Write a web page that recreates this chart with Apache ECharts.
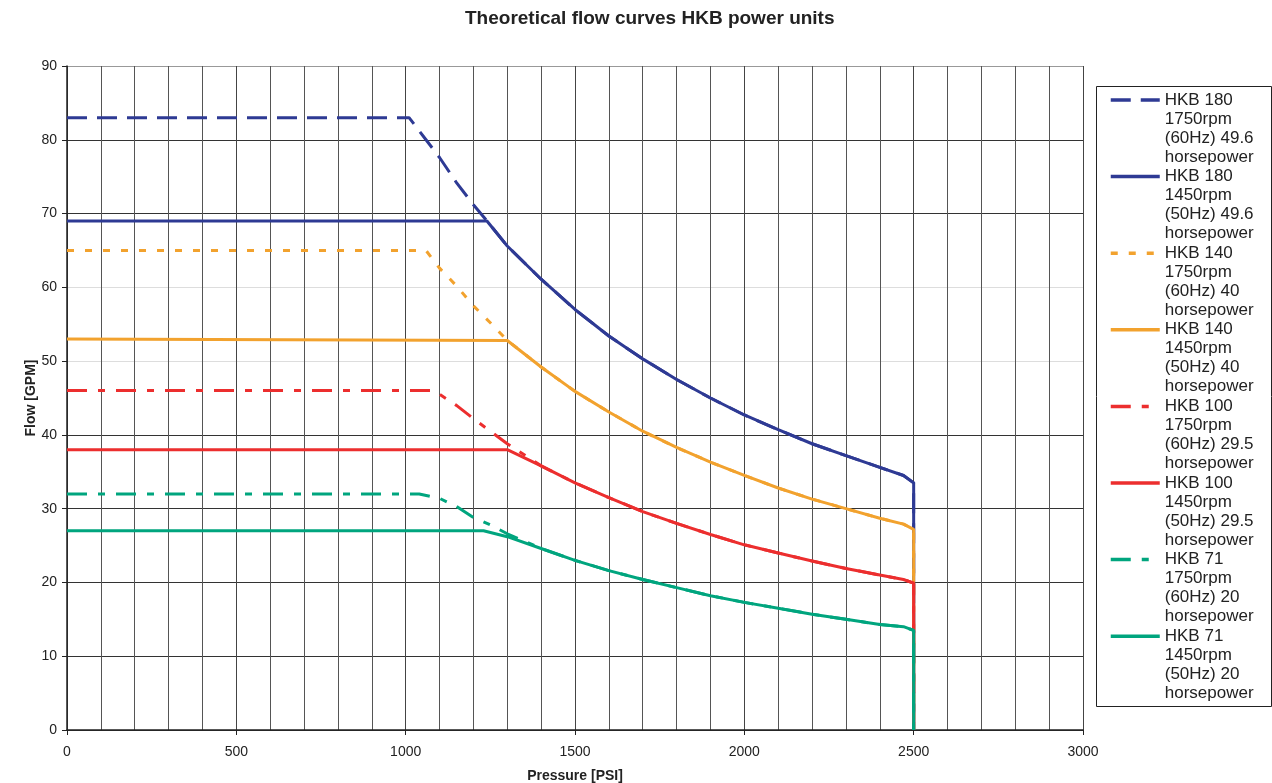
<!DOCTYPE html>
<html>
<head>
<meta charset="utf-8">
<script src="https://cdn.jsdelivr.net/npm/echarts@6/dist/echarts.min.js"></script>
<style>html,body{margin:0;padding:0;background:#fff}#c{width:1272px;height:783px}</style>
</head>
<body>
<div id="c"></div>
<script>
const titleText = 'Theoretical flow curves HKB power units';
const xName = 'Pressure [PSI]';
const yName = 'Flow [GPM]';
const xTicks = [0, 500, 1000, 1500, 2000, 2500, 3000];
const yTicks = [0, 10, 20, 30, 40, 50, 60, 70, 80, 90];

const names = [
  'HKB 180\n1750rpm\n(60Hz) 49.6\nhorsepower',
  'HKB 180\n1450rpm\n(50Hz) 49.6\nhorsepower',
  'HKB 140\n1750rpm\n(60Hz) 40\nhorsepower',
  'HKB 140\n1450rpm\n(50Hz) 40\nhorsepower',
  'HKB 100\n1750rpm\n(60Hz) 29.5\nhorsepower',
  'HKB 100\n1450rpm\n(50Hz) 29.5\nhorsepower',
  'HKB 71\n1750rpm\n(60Hz) 20\nhorsepower',
  'HKB 71\n1450rpm\n(50Hz) 20\nhorsepower'
];

const hkb180_60 = [[0,83],[1010,83],[1060,80.0],[1100,77.6],[1150,74.2],[1200,71.2],[1240,69],[1300,65.6],[1400,61.1],[1500,57.0],[1600,53.4],[1700,50.3],[1800,47.5],[1900,45.0],[2000,42.7],[2100,40.7],[2200,38.8],[2300,37.2],[2400,35.6],[2470,34.5],[2500,33.5],[2500,0]];
const hkb180_50 = [[0,69],[1240,69],[1300,65.6],[1400,61.1],[1500,57.0],[1600,53.4],[1700,50.3],[1800,47.5],[1900,45.0],[2000,42.7],[2100,40.7],[2200,38.8],[2300,37.2],[2400,35.6],[2470,34.5],[2500,33.5],[2500,0]];
const hkb140_60 = [[0,65],[1060,65],[1100,62.6],[1150,60.2],[1200,57.5],[1250,55.2],[1300,52.8],[1400,49.2],[1500,45.9],[1600,43.1],[1700,40.5],[1800,38.3],[1900,36.3],[2000,34.5],[2100,32.8],[2200,31.3],[2300,30.0],[2400,28.7],[2470,27.9],[2500,27.2],[2500,0]];
const hkb140_50 = [[0,53],[1300,52.8],[1400,49.2],[1500,45.9],[1600,43.1],[1700,40.5],[1800,38.3],[1900,36.3],[2000,34.5],[2100,32.8],[2200,31.3],[2300,30.0],[2400,28.7],[2470,27.9],[2500,27.2],[2500,0]];
const hkb100_60 = [[0,46],[1080,46],[1100,45.5],[1150,44.0],[1200,42.2],[1250,40.5],[1300,38.8],[1360,37.0],[1400,35.8],[1500,33.5],[1600,31.5],[1700,29.6],[1800,28.0],[1900,26.5],[2000,25.1],[2100,24.0],[2200,22.9],[2300,21.9],[2400,21.0],[2470,20.4],[2500,19.9],[2500,0]];
const hkb100_50 = [[0,38],[1300,38],[1400,35.8],[1500,33.5],[1600,31.5],[1700,29.6],[1800,28.0],[1900,26.5],[2000,25.1],[2100,24.0],[2200,22.9],[2300,21.9],[2400,21.0],[2470,20.4],[2500,19.9],[2500,0]];
const hkb71_60 = [[0,32],[1040,32],[1100,31.4],[1150,30.3],[1200,28.8],[1250,27.8],[1300,26.6],[1350,25.6],[1400,24.6],[1500,23.0],[1600,21.6],[1700,20.4],[1800,19.3],[1900,18.2],[2000,17.3],[2100,16.5],[2200,15.7],[2300,15.0],[2400,14.3],[2470,14.0],[2500,13.5],[2500,0]];
const hkb71_50 = [[0,27],[1230,27],[1300,26.2],[1400,24.6],[1500,23.0],[1600,21.6],[1700,20.4],[1800,19.3],[1900,18.2],[2000,17.3],[2100,16.5],[2200,15.7],[2300,15.0],[2400,14.3],[2470,14.0],[2500,13.5],[2500,0]];

const seriesData = [hkb180_60, hkb180_50, hkb140_60, hkb140_50, hkb100_60, hkb100_50, hkb71_60, hkb71_50];
const colors = ['#2e3a94', '#2e3a94', '#f2a22e', '#f2a22e', '#ec2e2e', '#ec2e2e', '#00a57e', '#00a57e'];
const dashes = [[20, 10], 'solid', [7, 11], 'solid', [20, 11, 7, 11], 'solid', [20, 11, 7, 11], 'solid'];

const FONT = '"Liberation Sans", Arial, sans-serif';
const chart = echarts.init(document.getElementById('c'), null, {renderer: 'canvas'});

const option = {
  backgroundColor: '#fff',
  animation: false,
  title: {
    text: titleText,
    left: 460, top: 4,
    textStyle: {fontFamily: FONT, fontSize: 19, fontWeight: 'bold', color: '#222'}
  },
  graphic: [{
    type: 'rect', left: 1096, top: 86, z: 0,
    shape: {width: 175, height: 620},
    style: {fill: '#fff', stroke: '#222', lineWidth: 1}
  }],
  legend: {
    orient: 'vertical',
    left: 1109, top: 33.5,
    height: 745,
    padding: 0,
    itemGap: -56.4,
    itemWidth: 49,
    itemHeight: 14,
    z: 5,
    itemStyle: {color: 'rgba(0,0,0,0)', borderWidth: 0, opacity: 0},
    lineStyle: {width: 3.5},
    formatter: n => '\n\n\n' + n,
    textStyle: {fontFamily: FONT, fontSize: 17, lineHeight: 19, color: '#222'},
    data: names
  },
  grid: {left: 67, top: 66, width: 1016, height: 664, containLabel: false, outerBoundsMode: 'none'},
  xAxis: {
    type: 'value', min: xTicks[0], max: xTicks[xTicks.length - 1], interval: 500,
    name: xName, nameLocation: 'middle', nameGap: 39,
    nameTextStyle: {fontFamily: FONT, fontSize: 14, fontWeight: 'bold', color: '#222'},
    axisLine: {show: true, lineStyle: {color: '#222', width: 1.5}},
    axisTick: {show: true, length: 5, lineStyle: {color: '#222'}},
    axisLabel: {fontFamily: FONT, fontSize: 14, color: '#222', margin: 15, formatter: v => String(v)},
    splitLine: {show: true, lineStyle: {color: '#444', width: 1}},
    minorTick: {show: false, splitNumber: 5},
    minorSplitLine: {show: true, lineStyle: {color: '#555', width: 1}}
  },
  yAxis: {
    type: 'value', min: yTicks[0], max: yTicks[yTicks.length - 1], interval: 10,
    name: yName, nameLocation: 'middle', nameGap: 29, nameRotate: 90, nameMoveOverlap: false,
    nameTextStyle: {fontFamily: FONT, fontSize: 14, fontWeight: 'bold', color: '#222'},
    axisLine: {show: true, lineStyle: {color: '#222', width: 1.5}},
    axisTick: {show: true, length: 5, lineStyle: {color: '#222'}},
    axisLabel: {fontFamily: FONT, fontSize: 14, color: '#222', margin: 10},
    splitLine: {show: true, lineStyle: {color: ['#333', '#333', '#333', '#333', '#333', '#ddd', '#ddd', '#333', '#333', '#999'], width: 1}}
  },
  series: seriesData.map((d, i) => ({
    name: names[i],
    type: 'line',
    data: d,
    showSymbol: false,
    symbol: 'none',
    silent: true,
    lineStyle: {color: colors[i], width: 3, type: dashes[i]},
    itemStyle: {color: colors[i]},
    z: 3 + i
  }))
};
chart.setOption(option);
</script>
</body>
</html>
